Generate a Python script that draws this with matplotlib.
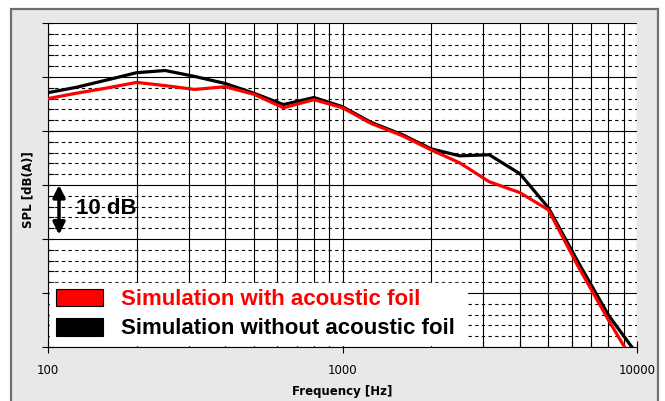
import matplotlib
matplotlib.use("Agg")
import matplotlib.pyplot as plt
from matplotlib.patches import Rectangle, Patch
from matplotlib.ticker import LogLocator, MultipleLocator, NullFormatter, FixedFormatter, FixedLocator

# third-octave bands and SPL values (relative dB, one major grid step = 10 dB)
freq = [100, 125, 160, 200, 250, 315, 400, 500, 630, 800, 1000, 1250, 1600,
        2000, 2500, 3150, 4000, 5000, 6300, 8000, 10000]
spl_with_foil = [46.0, 47.0, 48.0, 49.0, 48.4, 47.7, 48.2, 46.8, 44.3, 45.8, 44.3,
                 41.4, 39.1, 36.5, 34.1, 30.6, 28.6, 25.4, 15.0, 5.0, -3.9]
spl_without_foil = [47.1, 48.1, 49.5, 50.8, 51.2, 50.1, 48.8, 47.0, 44.9, 46.2, 44.5,
                    41.6, 39.3, 36.7, 35.4, 35.6, 32.1, 25.8, 15.8, 5.9, -1.3]
xtick_labels = ["100", "1000", "10000"]

fig = plt.figure(figsize=(6.65, 4.01), dpi=100)

# gray panel behind the plot
fig.patches.append(Rectangle((11 / 665, -0.05), 647 / 665, 1.05 - 9 / 401,
                             transform=fig.transFigure, facecolor="#e8e8e8",
                             edgecolor="#6e6e6e", linewidth=1.6, zorder=-1))

ax = fig.add_axes([48 / 665, 1 - 347 / 401, 589 / 665, 324 / 401])
ax.set_facecolor("white")

ax.plot(freq, spl_without_foil, color="black", lw=2.3, zorder=3)
ax.plot(freq, spl_with_foil, color="#ff0000", lw=2.3, zorder=3)

ax.set_xscale("log")
ax.set_xlim(100, 10000)
ax.set_ylim(0, 60)

ax.xaxis.set_major_locator(FixedLocator([100, 1000, 10000]))
ax.xaxis.set_major_formatter(FixedFormatter(xtick_labels))
ax.xaxis.set_minor_locator(LogLocator(base=10, subs=range(2, 10)))
ax.xaxis.set_minor_formatter(NullFormatter())
ax.yaxis.set_major_locator(MultipleLocator(10))
ax.yaxis.set_minor_locator(MultipleLocator(2))
ax.yaxis.set_major_formatter(NullFormatter())

ax.grid(True, which="major", axis="both", color="black", lw=0.8, ls="-")
ax.grid(True, which="minor", axis="x", color="black", lw=0.8, ls="-")
ax.grid(True, which="minor", axis="y", color="black", lw=0.8, ls=(0, (3, 3)))
ax.set_axisbelow(True)

ax.tick_params(which="major", direction="inout", length=9, width=0.8, labelsize=8.5,
               pad=8)
ax.tick_params(which="minor", direction="in", length=4, width=0.8)
for s in ["top", "right"]:
    ax.spines[s].set_visible(False)
for s in ["left", "bottom"]:
    ax.spines[s].set_linewidth(0.8)

ax.set_xlabel("Frequency [Hz]", fontsize=8.5, fontweight="bold")
ax.set_ylabel("SPL [dB(A)]", fontsize=8.5, fontweight="bold")
ax.xaxis.set_label_coords(0.5, -38 / 324)
ax.yaxis.set_label_coords(-14 / 589, 0.485)

# 10 dB scale arrow
ax.annotate("", xy=(109, 20.8), xytext=(109, 30.0),
            arrowprops=dict(arrowstyle="<|-|>", lw=2.5, color="black",
                            mutation_scale=18, shrinkA=0, shrinkB=0))
ax.text(124, 25.6, "10 dB", fontsize=16, fontweight="bold", family="Liberation Sans",
        va="center", ha="left")

handles = [Patch(facecolor="#ff0000", edgecolor="black", lw=0.8),
           Patch(facecolor="black", edgecolor="black", lw=0.8)]
leg = ax.legend(handles, ["Simulation with acoustic foil", "Simulation without acoustic foil"],
                loc="lower left", bbox_to_anchor=(2 / 589, 2 / 324, 417 / 589, 62 / 324),
                mode="expand", frameon=True, fancybox=False, framealpha=1,
                edgecolor="white", facecolor="white",
                prop={"family": "Liberation Sans", "weight": "bold", "size": 16},
                handlelength=2.15, handleheight=0.85, handletextpad=0.8,
                borderpad=0.25, labelspacing=0.35, borderaxespad=0,
                labelcolor=["#ff0000", "black"])
leg.set_zorder(5)

fig.savefig("out.png", dpi=100)
